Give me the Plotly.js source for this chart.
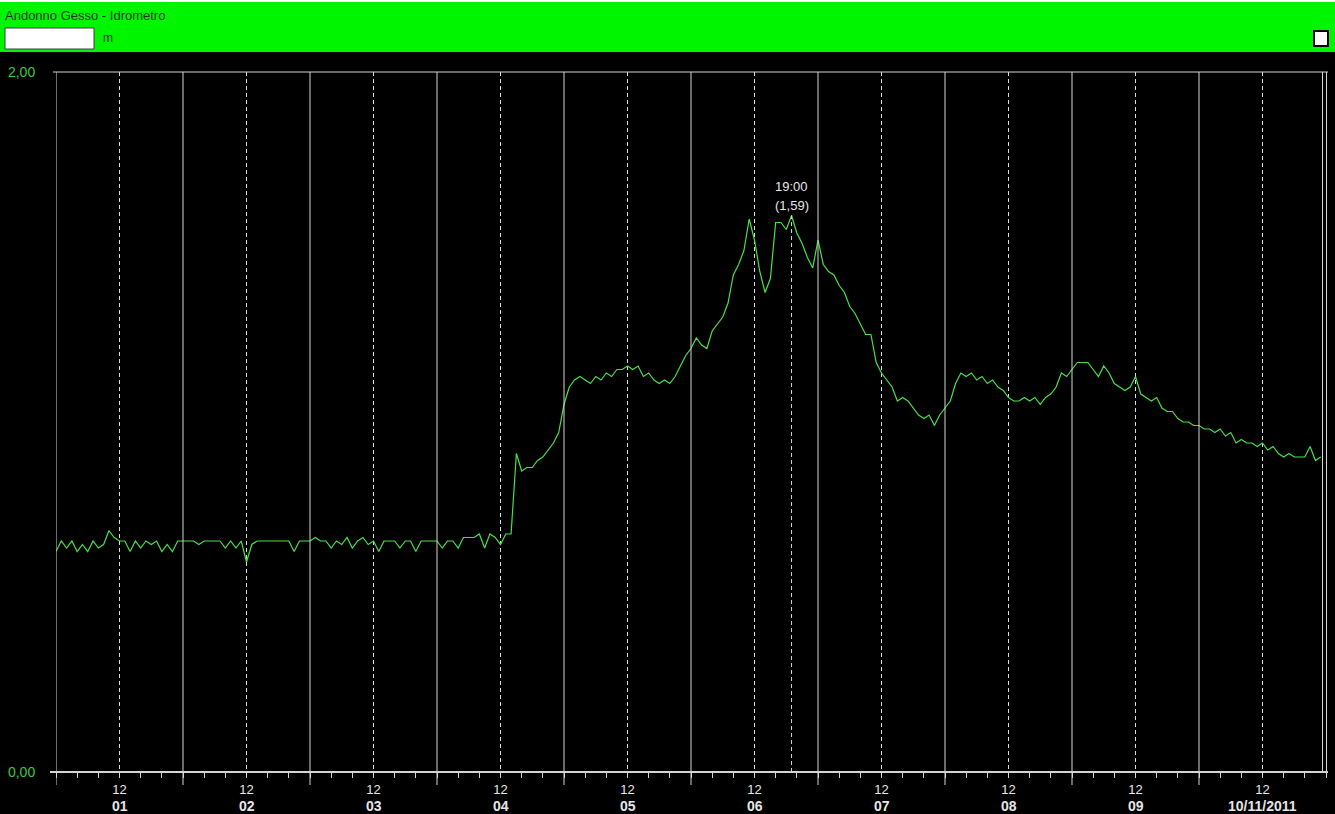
<!DOCTYPE html>
<html>
<head>
<meta charset="utf-8">
<script src="https://cdn.plot.ly/plotly-3.0.1.min.js"></script>
<style>
html,body{margin:0;padding:0;background:#000;}
#chart{width:1335px;height:814px;}
</style>
</head>
<body>
<div id="chart"></div>
<script>
// ---- data ----
const stationTitle = 'Andonno Gesso - Idrometro';
const unitLabel = 'm';
const dayDates = ['2011-11-01','2011-11-02','2011-11-03','2011-11-04','2011-11-05','2011-11-06','2011-11-07','2011-11-08','2011-11-09','2011-11-10'];
const dayLabels = ['01','02','03','04','05','06','07','08','09','10/11/2011'];
const noonLabel = '12';
const yTickVals = [0, 2];
const yTickText = ['0,00', '2,00'];

// hourly water level (m), hours 00..23 of each day
const day01 = [0.63,0.66,0.64,0.66,0.63,0.65,0.63,0.66,0.64,0.65,0.69,0.67,0.66,0.66,0.63,0.66,0.64,0.66,0.65,0.66,0.63,0.65,0.63,0.66];
const day02 = [0.66,0.66,0.66,0.65,0.66,0.66,0.66,0.66,0.64,0.66,0.64,0.66,0.60,0.65,0.66,0.66,0.66,0.66,0.66,0.66,0.66,0.63,0.66,0.66];
const day03 = [0.66,0.67,0.66,0.66,0.64,0.66,0.65,0.67,0.64,0.66,0.67,0.65,0.66,0.63,0.66,0.66,0.66,0.64,0.66,0.66,0.63,0.66,0.66,0.66];
const day04 = [0.66,0.64,0.66,0.66,0.64,0.67,0.67,0.67,0.68,0.64,0.68,0.67,0.65,0.68,0.68,0.91,0.86,0.87,0.87,0.89,0.90,0.92,0.94,0.97];
const day05 = [1.05,1.10,1.12,1.13,1.12,1.11,1.13,1.12,1.14,1.13,1.15,1.15,1.16,1.15,1.16,1.13,1.14,1.12,1.11,1.12,1.11,1.13,1.16,1.19];
const day06 = [1.21,1.24,1.22,1.21,1.26,1.28,1.30,1.34,1.42,1.45,1.49,1.58,1.52,1.43,1.37,1.41,1.57,1.57,1.55,1.59,1.54,1.51,1.47,1.44];
const day07 = [1.52,1.45,1.43,1.42,1.39,1.37,1.33,1.31,1.28,1.25,1.25,1.17,1.14,1.12,1.10,1.06,1.07,1.06,1.04,1.02,1.01,1.02,0.99,1.02];
const day08 = [1.04,1.06,1.11,1.14,1.13,1.14,1.12,1.13,1.11,1.12,1.10,1.09,1.07,1.06,1.06,1.07,1.06,1.07,1.05,1.07,1.08,1.10,1.14,1.13];
const day09 = [1.15,1.17,1.17,1.17,1.15,1.13,1.16,1.14,1.11,1.10,1.09,1.10,1.13,1.08,1.07,1.06,1.07,1.04,1.03,1.03,1.01,1.00,1.00,0.99];
const day10 = [0.99,0.98,0.98,0.97,0.98,0.96,0.97,0.94,0.95,0.94,0.94,0.93,0.94,0.92,0.93,0.91,0.90,0.91,0.90,0.90,0.90,0.93,0.89,0.90];

const peakTime = '2011-11-06 19:00';
const peakLevel = 1.59;
const peakTimeLabel = '19:00';
const peakValueLabel = '(1,59)';

// ---- build ----
const days = [day01,day02,day03,day04,day05,day06,day07,day08,day09,day10];
const times = [], levels = [];
days.forEach((arr, d) => {
  arr.forEach((v, h) => {
    times.push(dayDates[d] + ' ' + String(h).padStart(2,'0') + ':00');
    levels.push(v);
  });
});
const noons = dayDates.map(d => d + ' 12:00');
const rangeEnd = '2011-11-11 00:00';

// plot geometry (px): left 56, right 1326, top 72, bottom 772
const L = 56, R = 1326, T = 72, B = 772, W = R - L, H = B - T;
const px = x => (x - L) / W;
const py = y => (B - y) / H;

const grey = '#d4d4d4';
const FONT = 'Liberation Sans, Arial, sans-serif';
const shapes = [];
// header
shapes.push({type:'rect', xref:'paper', yref:'paper', x0:px(0), x1:px(1335), y0:py(52), y1:py(2), fillcolor:'#00f500', line:{width:0}, layer:'below'});
shapes.push({type:'rect', xref:'paper', yref:'paper', x0:px(0), x1:px(1335), y0:py(2), y1:py(0), fillcolor:'#ffffff', line:{width:0}, layer:'below'});
shapes.push({type:'rect', xref:'paper', yref:'paper', x0:px(5), x1:px(94), y0:py(49), y1:py(28), fillcolor:'#ffffff', line:{width:1, color:'#404040'}});
shapes.push({type:'rect', xref:'paper', yref:'paper', x0:px(1314), x1:px(1328), y0:py(46), y1:py(31), fillcolor:'#ffffff', line:{width:2, color:'#000000'}});
// midnight solid lines
dayDates.forEach(d => {
  shapes.push({type:'line', xref:'x', yref:'paper', x0:d, x1:d, y0:py(785), y1:1, line:{color:grey, width:1}});
});
// right edge double line
shapes.push({type:'line', xref:'paper', yref:'paper', x0:px(1322.5), x1:px(1322.5), y0:0, y1:1, line:{color:grey, width:1}});
shapes.push({type:'line', xref:'paper', yref:'paper', x0:px(1326.5), x1:px(1326.5), y0:0, y1:1, line:{color:grey, width:1}});
// top border and bottom axis
shapes.push({type:'line', xref:'paper', yref:'paper', x0:px(53), x1:px(1328), y0:1, y1:1, line:{color:grey, width:1}});
shapes.push({type:'line', xref:'paper', yref:'paper', x0:px(50), x1:px(1328), y0:0, y1:0, line:{color:grey, width:2}});
// peak marker
shapes.push({type:'line', xref:'x', yref:'y', x0:peakTime, x1:peakTime, y0:0, y1:peakLevel, line:{color:grey, width:1, dash:'4px,3px'}});

const annotations = [];
annotations.push({xref:'paper', yref:'paper', x:px(3), y:py(16), xanchor:'left', yanchor:'middle', text:stationTitle, showarrow:false, font:{family:FONT, size:13, color:'#263326'}});
annotations.push({xref:'paper', yref:'paper', x:px(101), y:py(38), xanchor:'left', yanchor:'middle', text:unitLabel, showarrow:false, font:{family:FONT, size:12, color:'#263326'}});
dayLabels.forEach((t, i) => {
  annotations.push({xref:'x', yref:'paper', x:noons[i], y:py(806), xanchor:'center', yanchor:'middle', text:'<b>'+t+'</b>', showarrow:false, font:{family:FONT, size:14, color:'#e6e6e6'}});
});
annotations.push({xref:'x', yref:'y', x:peakTime, y:peakLevel, yshift:29, xanchor:'center', yanchor:'middle', text:peakTimeLabel, showarrow:false, font:{family:FONT, size:13, color:'#e6e6e6'}});
annotations.push({xref:'x', yref:'y', x:peakTime, y:peakLevel, yshift:10, xanchor:'center', yanchor:'middle', text:peakValueLabel, showarrow:false, font:{family:FONT, size:13, color:'#e6e6e6'}});

const trace = {
  type:'scatter', mode:'lines', x:times, y:levels,
  line:{color:'#48e048', width:1.2}, hoverinfo:'skip', cliponaxis:false
};

const layout = {
  width:1335, height:814,
  margin:{l:L, r:1335-R, t:T, b:814-B, pad:0},
  paper_bgcolor:'#000000', plot_bgcolor:'#000000',
  showlegend:false,
  font:{family:FONT, color:'#e6e6e6'},
  xaxis:{
    type:'date', range:[dayDates[0]+' 00:00', rangeEnd], fixedrange:true,
    tickmode:'array', tickvals:noons, ticktext:noons.map(() => noonLabel),
    ticks:'outside', ticklen:5, tickwidth:1, tickcolor:grey,
    tickfont:{size:13, color:'#e6e6e6'},
    showgrid:true, gridcolor:'#dcdcdc', gridwidth:1, griddash:'4px,3px',
    minor:{tick0:dayDates[0]+' 00:00', dtick:4*3600*1000, ticks:'outside', ticklen:5, tickwidth:1, tickcolor:grey, showgrid:false},
    showline:false, zeroline:false
  },
  yaxis:{
    range:[0,2], fixedrange:true,
    tickmode:'array', tickvals:yTickVals, ticktext:yTickText,
    ticks:'outside', ticklen:6, tickcolor:'rgba(0,0,0,0)', ticklabelstandoff:11,
    tickfont:{size:14, color:'#3cc83c'},
    showgrid:false, zeroline:false, showline:false
  },
  shapes:shapes,
  annotations:annotations
};

Plotly.newPlot('chart', [trace], layout, {displayModeBar:false, staticPlot:true});
</script>
</body>
</html>
